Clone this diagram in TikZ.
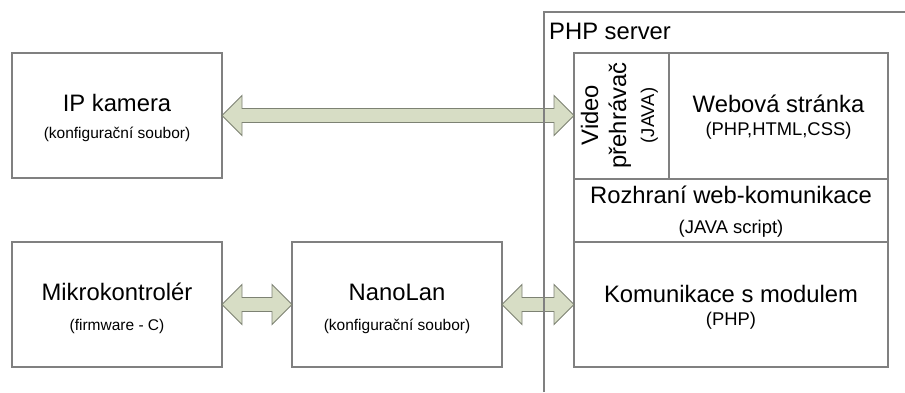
\documentclass[tikz,border=0pt]{standalone}
\usepackage{fontspec}
\setmainfont{Liberation Sans}
\usetikzlibrary{calc}
\definecolor{boxline}{RGB}{128,128,128}
\definecolor{arrfill}{RGB}{215,221,197}
\definecolor{arrline}{RGB}{125,130,115}
\newcommand\mainf{\fontsize{23.8}{28}\selectfont}
\newcommand\subl{\fontsize{15.5}{19}\selectfont}
\newcommand\subr{\fontsize{18.4}{22}\selectfont}
\newcommand\dblarrow[2]{%
  \draw[arrowshape] let \p1=(#1), \p2=(#2) in
    (\x1,\y1) -- (\x1+20pt,\y1+20pt) -- (\x1+20pt,\y1+7pt) -- (\x2-20pt,\y1+7pt)
    -- (\x2-20pt,\y1+20pt) -- (\x2,\y1) -- (\x2-20pt,\y1-20pt) -- (\x2-20pt,\y1-7pt)
    -- (\x1+20pt,\y1-7pt) -- (\x1+20pt,\y1-20pt) -- cycle;}
\tikzset{
  box/.style={draw=boxline, line width=1.2pt, rectangle, inner sep=0pt, outer sep=0pt},
  mainlbl/.style={font=\mainf, inner sep=0pt, anchor=base},
  sublbl/.style={font=\subl, inner sep=0pt, anchor=base},
  subrlbl/.style={font=\subr, inner sep=0pt, anchor=base},
  arrowshape/.style={fill=arrfill, draw=arrline, line width=0.9pt, line join=miter},
  frameline/.style={draw=boxline, line width=1.2pt}
}
\begin{document}
\begin{tikzpicture}[x=1pt,y=-1pt]
\useasboundingbox (0,0) rectangle (905,392);
% left boxes
\node[box, minimum width=210pt, minimum height=125pt] (ip) at (117,115.5) {};
\node[box, minimum width=210pt, minimum height=125pt] (mikro) at (117,304.5) {};
\node[box, minimum width=210pt, minimum height=125pt] (nano) at (397,304.5) {};
% server inner boxes
\node[box, minimum width=95pt, minimum height=126pt] (video) at (621.5,116) {};
\node[box, minimum width=219pt, minimum height=126pt] (web) at (778.5,116) {};
\node[box, minimum width=314pt, minimum height=63pt] (rozh) at (731,210.5) {};
\node[box, minimum width=314pt, minimum height=125pt] (komu) at (731,304.5) {};
% labels
\node[mainlbl] (iplbl) at ($(ip.north)+(0,58)$) {IP kamera};
\node[sublbl] (ipsub) at ($(ip.north)+(0,85)$) {(konfigurační soubor)};
\node[mainlbl] (mikrolbl) at ($(mikro.north)+(0,58)$) {Mikrokontrolér};
\node[sublbl] (mikrosub) at ($(mikro.north)+(0,88)$) {(firmware - C)};
\node[mainlbl] (nanolbl) at ($(nano.north)+(0,58)$) {NanoLan};
\node[sublbl] (nanosub) at ($(nano.north)+(0,88)$) {(konfigurační soubor)};
\node[mainlbl] (weblbl) at (778.5,112) {Webová stránka};
\node[subrlbl] (websub) at (778.5,135) {(PHP,HTML,CSS)};
\node[mainlbl] (rozhlbl) at (731,203) {Rozhraní web-komunikace};
\node[subrlbl] (rozhsub) at (731,233) {(JAVA script)};
\node[mainlbl] (komulbl) at (731,302) {Komunikace s modulem};
\node[subrlbl] (komusub) at (731,325) {(PHP)};
\node[mainlbl, rotate=90] (vid1) at (598,115) {Video};
\node[mainlbl, rotate=90] (vid2) at (626,115.5) {přehrávač};
\node[subrlbl, rotate=90] (vid3) at (654,115.5) {(JAVA)};
\node[mainlbl, anchor=base west] (phplbl) at (549,39) {PHP server};
% arrows
\dblarrow{ip.east}{video.west}
\dblarrow{mikro.east}{nano.west}
\dblarrow{nano.east}{komu.west}
% PHP server frame
\coordinate (fbot) at (544,392);
\coordinate (ftl) at (544,12);
\coordinate (ftr) at (905,12);
\draw[frameline] (fbot) -- (ftl) -- (ftr);
\end{tikzpicture}
\end{document}
